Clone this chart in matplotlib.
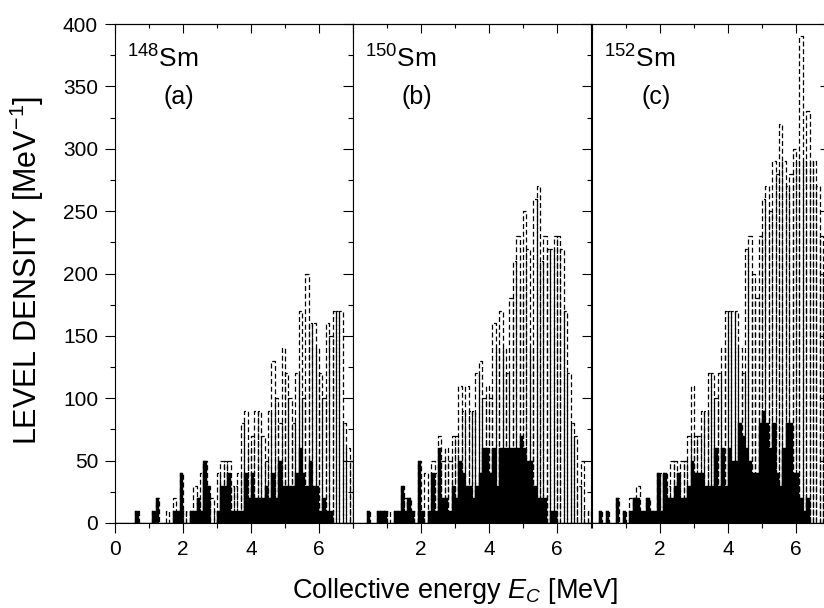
import numpy as np
import matplotlib.pyplot as plt
from matplotlib.collections import LineCollection
from matplotlib.ticker import MultipleLocator, FixedLocator

plt.rcParams['font.family'] = ['Liberation Sans', 'DejaVu Sans']
plt.rcParams['mathtext.fontset'] = 'custom'
plt.rcParams['mathtext.rm'] = 'Liberation Sans'
plt.rcParams['mathtext.it'] = 'Liberation Sans:italic'

# histogram bins, 0.1 MeV wide, left edges
bin_width = 0.1
energy = np.arange(70) * bin_width

nuclei = ["148", "150", "152"]
tags = ["(a)", "(b)", "(c)"]

# total level density (dashed) and collective part (solid), MeV^-1
total_148 = [0,0,0,0,0,0,10,0,0,0, 0,10,20,0,0,10,0,20,10,40,
             10,10,10,30,20,40,50,30,20,10, 40,50,50,50,30,30,40,80,90,60,
             70,90,90,70,50,90,130,100,80,140, 120,100,80,120,170,100,200,160,160,140,
             120,100,160,150,170,170,170,80,60,50]
solid_148 = [0,0,0,0,0,0,10,0,0,0, 0,10,20,0,0,0,0,10,10,40,
             0,0,10,10,20,10,50,30,0,0, 10,30,30,40,10,10,10,10,40,20,
             40,20,20,20,30,20,40,20,50,30, 30,30,30,40,60,40,30,50,30,30,
             10,20,10,10,0,0,0,0,0,0]

total_150 = [0,0,0,0,10,0,0,10,10,10, 10,0,10,10,30,20,20,10,10,50,
             10,40,10,50,40,70,50,60,50,70, 70,110,90,110,90,90,120,130,100,110,
             100,160,140,170,140,120,180,210,230,190, 250,220,140,260,270,210,230,220,220,230,
             230,220,170,120,80,70,30,50,10,10]
solid_150 = [0,0,0,0,10,0,0,10,10,10, 0,0,10,10,30,10,20,10,0,50,
             10,0,10,40,10,60,20,20,10,30, 20,50,40,30,30,20,30,40,60,60,
             40,60,30,60,60,60,60,60,60,70, 60,50,50,30,20,20,20,0,10,10,
             0,0,0,0,0,0,0,0,0,0]

total_152 = [0,0,10,0,10,0,0,20,0,10, 0,20,20,30,10,10,20,10,10,40,
             40,40,30,50,50,40,50,50,70,110, 70,70,90,90,120,120,100,120,140,170,
             170,170,170,140,120,220,230,200,180,230, 260,270,250,290,280,320,290,270,280,300,
             290,390,290,330,290,290,270,230,200,150]
solid_152 = [0,0,10,0,10,0,0,20,0,10, 0,10,20,20,10,10,20,10,10,40,
             10,40,20,20,30,40,20,20,30,50, 40,40,40,30,30,30,60,30,60,30,
             60,50,50,80,70,60,50,40,40,80, 90,80,60,80,40,30,60,80,80,40,
             40,20,10,20,0,0,0,0,0,0]

totals = [total_148, total_150, total_152]
solids = [solid_148, solid_150, solid_152]


def dashed_bars(ax, x, h, w):
    segs = []
    for xi, hi in zip(x, h):
        if hi <= 0:
            continue
        segs.append([(xi, 0), (xi, hi), (xi + w, hi), (xi + w, 0)])
    lc = LineCollection(segs, colors='black', linewidths=0.9,
                        linestyles=[(0, (4.0, 2.2))], zorder=3)
    ax.add_collection(lc)


W, H = 824, 608
fig = plt.figure(figsize=(W / 100, H / 100), dpi=100)

lefts = [115, 353, 592]
for k in range(3):
    ax = fig.add_axes([lefts[k] / W, 85 / H, 238 / W, 499 / H])

    ax.bar(energy, solids[k], width=bin_width, align='edge',
           color='black', edgecolor='black', linewidth=0.3, zorder=2)
    dashed_bars(ax, energy, totals[k], bin_width)

    ax.set_xlim(0, 7)
    ax.set_ylim(0, 400)

    ax.xaxis.set_major_locator(FixedLocator([0, 2, 4, 6] if k == 0 else [2, 4, 6]))
    ax.xaxis.set_minor_locator(MultipleLocator(1))
    ax.yaxis.set_major_locator(MultipleLocator(50))
    ax.yaxis.set_minor_locator(MultipleLocator(25))

    ax.tick_params(which='both', direction='out', width=0.8, labelsize=15,
                   top=False, right=False, pad=5)
    ax.tick_params(which='major', length=7.2)
    ax.tick_params(which='minor', length=3.6)
    if k > 0:
        ax.tick_params(axis='y', labelleft=False)
    for s in ax.spines.values():
        s.set_linewidth(0.8)

    top = ax.secondary_xaxis('top')
    top.xaxis.set_major_locator(FixedLocator([0, 2, 4, 6]))
    top.xaxis.set_minor_locator(MultipleLocator(1))
    top.tick_params(which='both', direction='in', width=0.8,
                    labeltop=False, labelbottom=False)
    top.tick_params(which='major', length=6.5)
    top.tick_params(which='minor', length=3)
    top.spines['top'].set_linewidth(0.8)

    if k == 2:
        rgt = ax.secondary_yaxis('right')
        rgt.yaxis.set_major_locator(MultipleLocator(50))
        rgt.yaxis.set_minor_locator(MultipleLocator(25))
        rgt.tick_params(which='both', direction='in', width=0.8,
                        labelright=False, labelleft=False)
        rgt.tick_params(which='major', length=7.2)
        rgt.tick_params(which='minor', length=3.6)

    ax.text(0.05, 0.912, r"$^{%s}$Sm" % nuclei[k], transform=ax.transAxes,
            fontsize=19, ha='left', va='baseline')
    ax.text(0.27, 0.854, tags[k], transform=ax.transAxes,
            fontsize=18, ha='center', va='center')

fig.text(27 / W, 0.555, r"LEVEL DENSITY [MeV$^{-1}$]", rotation=90,
         fontsize=22, ha='center', va='center')
fig.text(455 / W, 10 / H, r"Collective energy $\mathit{E}_{\mathit{C}}$ [MeV]",
         fontsize=19.5, ha='center', va='baseline')

fig.savefig("out.png", dpi=100)
